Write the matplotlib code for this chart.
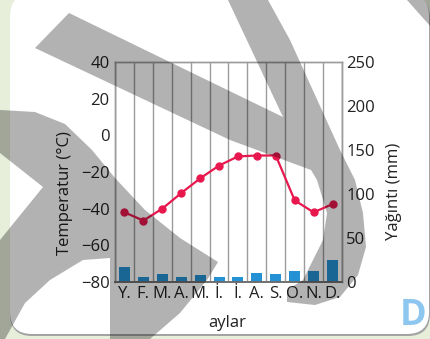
import numpy as np
import matplotlib
matplotlib.use('Agg')
import matplotlib.pyplot as plt
from matplotlib.patches import Polygon, FancyBboxPatch
from matplotlib.transforms import IdentityTransform

# data
months = ['Y.', 'F.', 'M.', 'A.', 'M.', 'İ.', 'İ.', 'A.', 'S.', 'O.', 'N.', 'D.']
temperature = [-42, -46.5, -40, -31.5, -23.5, -16.5, -11.5, -11, -11, -35.5, -42, -37.5]
precipitation = [17.5, 6, 9.5, 6, 8, 6, 6, 10.5, 9, 12.5, 12.5, 25.5]
temp_ticks = [-80, -60, -40, -20, 0, 20, 40]
rain_ticks = [0, 50, 100, 150, 200, 250]

W, H = 431, 339
plt.rcParams['font.family'] = ['Open Sans', 'DejaVu Sans']
plt.rcParams['axes.unicode_minus'] = True

fig = plt.figure(figsize=(W / 100, H / 100), dpi=100)
fig.patch.set_facecolor('#e7efdb')


def px(points):
    # image pixel coords (y down) -> display coords
    return [(x, H - y) for x, y in points]


# white card with a soft grey bottom edge
shadow = FancyBboxPatch((10, H - 336), 420, 340, boxstyle='round,pad=0,rounding_size=22',
                        transform=IdentityTransform(), facecolor='#a3a3a3',
                        edgecolor='none', zorder=-3)
card = FancyBboxPatch((10, H - 334), 419, 340, boxstyle='round,pad=0,rounding_size=22',
                      transform=IdentityTransform(), facecolor='white',
                      edgecolor='none', zorder=-2)
fig.add_artist(shadow)
fig.add_artist(card)

ax = fig.add_axes([115 / W, 1 - 282 / H, 227 / W, 220 / H])
ax2 = ax.twinx()
ax.set_zorder(ax2.get_zorder() + 1)
ax.patch.set_visible(False)
ax2.patch.set_visible(False)

x = np.arange(len(months))
ax2.bar(x, precipitation, width=0.58, color='#2591d5', zorder=2)
ax.plot(x, temperature, color='#e8184e', lw=1.6, marker='o', ms=5,
        zorder=3, clip_on=False)

ax.set_xlim(-0.5, len(months) - 0.5)
ax.set_ylim(-80, 40)
ax2.set_ylim(0, 250)
ax.set_yticks(temp_ticks)
ax2.set_yticks(rain_ticks)
ax.set_xticks(x)
ax.set_xticklabels(months)
ax.set_xticks(np.arange(-0.5, len(months), 1), minor=True)
ax.grid(which='minor', axis='x', color='#9c9c9c', lw=1)
ax.tick_params(which='both', length=0)
ax2.tick_params(length=0)
ax.tick_params(axis='y', labelsize=12, pad=4, colors='#222222')
ax.tick_params(axis='x', labelsize=12, pad=3, colors='#222222')
ax2.tick_params(axis='y', labelsize=12, pad=3, colors='#222222')

for a in (ax, ax2):
    for side in ('left', 'right', 'top'):
        a.spines[side].set_color('#9c9c9c')
        a.spines[side].set_linewidth(1)
    a.spines['bottom'].set_color('#6e6e6e')
    a.spines['bottom'].set_linewidth(1.2)

ax.set_ylabel('Temperatur (°C)', fontsize=12, color='#222222')
ax.yaxis.set_label_coords(-0.22, 0.405)
ax.yaxis.label.set_va('center')
ax2.set_ylabel('Yağıntı (mm)', fontsize=12, color='#222222')
ax2.yaxis.set_label_coords(1.23, 0.41)
ax2.yaxis.label.set_va('center')
ax.set_xlabel('aylar', fontsize=12, color='#222222')
ax.xaxis.set_label_coords(0.493, -0.185)
ax.xaxis.label.set_va('center')

fig.text(413 / W, 1 - 316 / H, 'D', fontsize=26, fontweight='bold',
         color='#8dc6ee', ha='center', va='center')

# grey watermark bands laid over the page
wm_right = [(35, 48), (69, 13), (283, 117), (228, 0), (268, 0), (290, 40),
            (340, 150), (355, 180), (363, 213), (366, 247), (358, 275),
            (340, 297), (315, 305), (287, 302), (287, 290), (303, 280),
            (313, 260), (323, 240), (327, 213), (317, 180), (311, 170),
            (230, 140)]
wm_left = [(0, 110), (35, 112), (65, 124), (92, 150), (115, 178), (145, 210),
           (180, 238), (218, 262), (207, 280), (180, 313), (150, 339),
           (110, 339), (110, 258), (83, 260), (50, 280), (25, 303), (10, 330),
           (5, 339), (0, 339), (0, 240), (43, 187), (0, 153)]
wm_corner = [(407, 0), (431, 0), (431, 27)]
for pts in (wm_right, wm_left, wm_corner):
    fig.add_artist(Polygon(px(pts), closed=True, transform=IdentityTransform(),
                           facecolor='black', alpha=0.3, edgecolor='none',
                           zorder=10))

fig.savefig('out.png', dpi=100)
